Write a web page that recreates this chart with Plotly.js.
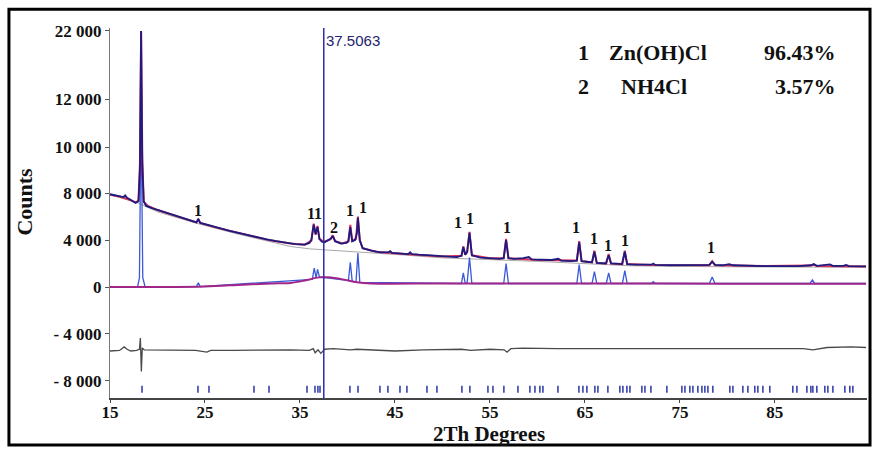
<!DOCTYPE html>
<html>
<head>
<meta charset="utf-8">
<script src="https://cdn.plot.ly/plotly-3.0.1.min.js"></script>
<style>html,body{margin:0;padding:0;background:#fff;}#chart{width:872px;height:450px;}</style>
</head>
<body>
<div id="chart"></div>
<script>
// ---- observed pattern (2Theta deg, counts in display units) ----
var obsX = [15.0,15.5,16.0,16.4,16.6,16.8,17.2,17.7,18.0,18.15,18.27,18.4,18.55,18.8,19.5,20.5,21.5,22.5,23.5,24.1,24.3,24.5,25.5,26.5,27.5,28.5,29.5,30.5,31.5,32.5,33.5,34.5,35.5,36.0,36.2,36.45,36.65,36.85,37.05,37.3,37.6,37.9,38.3,38.45,38.7,39.3,39.9,40.1,40.3,40.5,40.8,41.0,41.1,41.3,41.6,42.5,43.5,44.3,44.5,44.7,45.5,46.4,46.6,46.8,47.5,48.5,49.5,50.5,51.5,52.0,52.2,52.4,52.6,52.85,53.1,54.0,55.0,56.0,56.45,56.7,56.95,57.5,58.5,59.1,59.4,60.5,61.5,62.2,62.5,63.5,64.15,64.4,64.65,65.2,65.75,66.0,66.25,67.2,67.5,67.75,68.9,69.2,69.45,70.2,71.0,72.0,72.2,72.4,74.0,76.0,77.5,78.1,78.4,78.7,79.5,80.2,80.6,82.0,84.0,86.0,87.5,88.8,89.1,89.4,90.5,90.8,91.1,92.2,92.5,92.8,94.6];
var obsY = [7900,7800,7700,7650,7800,7600,7400,7150,7300,10000,21800,10500,7300,6900,6700,6450,6200,5900,5650,5500,5800,5450,5250,5000,4800,4600,4400,4200,4050,3900,3750,3650,3600,3750,4000,5300,4500,5100,4100,3850,3800,3950,4150,4350,3900,3700,3750,3900,5100,3900,4000,4600,5900,4000,3300,3100,2950,2950,3050,2900,2850,2800,2950,2800,2750,2700,2650,2600,2550,2650,3400,2750,3000,4600,2700,2500,2450,2400,2450,4000,2450,2400,2450,2550,2350,2300,2300,2400,2250,2200,2250,3800,2200,2150,2100,3000,2050,2000,2700,2000,1950,3000,1950,1900,1880,1900,2000,1880,1850,1850,1850,1880,2150,1880,1850,1950,1850,1800,1780,1780,1780,1850,1950,1800,1850,1920,1800,1800,1880,1780,1750];

// ---- calculated pattern ----
var calcX = [15,16,17,17.7,18.0,18.15,18.28,18.4,18.55,19,20,22,24.1,24.3,24.5,26,28,30,32,34,35.5,36.2,36.45,36.65,36.85,37.05,37.5,38.2,38.45,38.7,39.5,40.1,40.3,40.5,40.9,41.1,41.3,41.6,43,46,50,52.0,52.2,52.4,52.6,52.85,53.1,55,56.45,56.7,56.95,60,64.15,64.4,64.65,65.75,66.0,66.25,67.25,67.5,67.75,68.95,69.2,69.45,72,78.1,78.4,78.7,84,88.8,89.1,89.4,94.6];
var calcY = [7850,7700,7450,7200,7350,10500,21800,11000,7250,6900,6550,6050,5500,5750,5450,5100,4700,4300,3950,3700,3600,3950,5400,4450,5200,4100,3850,4050,4400,3900,3700,3900,5300,3900,4100,6000,3950,3300,3000,2800,2600,2650,3450,2750,2950,4700,2700,2450,2450,4100,2450,2300,2250,3900,2200,2100,3100,2050,2000,2800,2000,1950,3100,1950,1880,1860,2200,1860,1780,1820,1900,1790,1750];

// ---- background ----
var bgX = [15,18,20,24,28,30,32,34,36,38,40,42,44,46,50,60,70,80,94.6];
var bgY = [7850,7150,6400,5450,4600,4200,3800,3450,3250,3150,3050,2950,2850,2720,2480,2180,1800,1720,1680];

// ---- amorphous / hump curve (bottom) ----
var humpX = [15,20,25,29,32,34,35.5,37,38,39.5,41,42.5,50,60,70,80,94.6];
var humpY = [0,0,50,200,300,350,550,820,820,650,400,300,300,300,300,280,280];

// ---- phase 1 Zn(OH)Cl calculated peaks (bottom) ----
var phaseX = [15,17.9,18.1,18.27,18.45,18.7,24.1,24.3,24.5,36.3,36.5,36.7,36.85,37.05,40.1,40.3,40.5,40.9,41.1,41.3,52.0,52.2,52.4,52.6,52.85,53.1,56.45,56.7,56.95,64.15,64.4,64.65,65.75,66.0,66.25,67.25,67.5,67.75,68.95,69.2,69.45,72.0,72.2,72.4,78.1,78.4,78.7,88.7,88.95,89.2,94.6];
var phaseY = [0,0,800,15200,800,0,30,350,40,650,1600,800,1500,850,550,2100,500,420,2900,400,300,1200,300,350,2500,300,300,2000,300,300,1900,300,300,1300,300,300,1200,300,300,1400,300,300,450,300,300,850,300,300,600,300,300];

// ---- difference curve ----
var diffX = [15,16.0,16.5,16.8,17.2,17.8,18.1,18.2,18.3,18.4,18.6,20,22,24,25.2,25.6,28,31,34,36.0,36.4,36.6,36.9,37.2,37.6,38.5,40.3,41,43,45,48,50,52,53,55,56.5,56.8,57.2,58.5,62,65,70,75,80,86,88,89,90.5,93,94.6];
var diffY = [-5450,-5400,-5100,-5300,-5450,-5400,-5300,-4350,-7200,-5200,-5350,-5350,-5400,-5400,-5550,-5400,-5400,-5350,-5350,-5400,-5250,-5600,-5350,-5650,-5300,-5250,-5350,-5300,-5400,-5450,-5350,-5300,-5300,-5400,-5300,-5350,-5550,-5250,-5200,-5250,-5250,-5250,-5200,-5200,-5250,-5250,-5350,-5150,-5100,-5150];

// ---- reflection positions (tick row) ----
var reflX = [18.37,24.26,25.42,30.16,31.74,35.74,36.58,36.89,37.11,40.26,41.11,43.42,44.26,45.53,46.26,48.37,49.42,52.05,52.89,54.79,55.32,56.47,57.95,59.21,59.74,60.26,60.58,62.16,64.37,64.79,65.21,66.05,66.37,67.42,68.68,69.0,69.42,69.74,71.0,71.32,71.95,73.63,75.21,75.53,76.05,76.37,76.89,77.32,77.63,77.95,78.47,80.26,80.58,81.63,82.16,82.89,83.21,83.74,84.47,86.89,87.32,88.37,88.79,89.0,89.42,90.26,90.58,91.11,92.37,92.89,93.21];
var reflLevel = -8700;

// ---- peak phase labels ----
var labelX = [18.95,24.26,36.55,38.6,40.3,41.6,51.6,52.9,56.8,64.05,65.95,67.4,69.2,78.3];
var labelY = [22400,6500,6300,5100,6500,6800,5500,5800,5100,5100,4100,3500,4000,3400];
var labelText = ['1','1','11','2','1','1','1','1','1','1','1','1','1','1'];

// ---- axis ticks ----
var xTickVals = [15,25,35,45,55,65,75,85];
var yTickVals = [-8000,-4000,0,4000,8000,11900,16000,21800];
var yTickText = ['- 8 000','- 4 000','0','4 000','8 000','10 000','12 000','22 000'];
var xTitle = '2Th Degrees';
var yTitle = 'Counts';

// ---- marker line and phase table ----
var markerPos = 37.5063;
var phaseNum = ['1','2'];
var phaseName = ['Zn(OH)Cl','NH4Cl'];
var phasePct = ['96.43%','3.57%'];

var serif = 'Liberation Serif, Times New Roman, serif';

var traces = [
  {x: bgX, y: bgY, mode: 'lines', line: {color: '#a8a8a8', width: 1}, hoverinfo: 'skip'},
  {x: phaseX, y: phaseY, mode: 'lines', line: {color: '#3a5ad8', width: 1.3}},
  {x: humpX, y: humpY, mode: 'lines', line: {color: '#a0268a', width: 2, shape: 'spline'}},
  {x: calcX, y: calcY, mode: 'lines', line: {color: '#e0305a', width: 2}},
  {x: obsX, y: obsY, mode: 'lines', line: {color: '#1b1b80', width: 1.8}},
  {x: diffX, y: diffY, mode: 'lines', line: {color: '#4a4a4a', width: 1.3}},
  {x: reflX, y: reflX.map(function(){return reflLevel;}), mode: 'markers',
   marker: {symbol: 'line-ns-open', size: 5, color: '#2a36a8', line: {color: '#2a36a8', width: 1.5}}}
];

var annotations = [];
for (var i = 0; i < labelX.length; i++) {
  annotations.push({x: labelX[i], y: labelY[i], text: labelText[i], showarrow: false,
    xanchor: 'center', yanchor: 'middle', font: {family: serif, size: 16, color: '#111', weight: 'bold'}});
}
annotations.push({x: markerPos, y: 21000, text: String(markerPos), showarrow: false, xanchor: 'left',
  yanchor: 'middle', font: {family: 'Liberation Sans, Arial, sans-serif', size: 15, color: '#23236e'}});
var rowY = [0.933, 0.841];
for (var j = 0; j < phaseNum.length; j++) {
  annotations.push({xref: 'paper', yref: 'paper', x: 0.625, y: rowY[j], text: phaseNum[j], showarrow: false,
    xanchor: 'center', yanchor: 'middle', font: {family: serif, size: 22, color: '#111', weight: 'bold'}});
  annotations.push({xref: 'paper', yref: 'paper', x: j === 0 ? 0.657 : 0.673, y: rowY[j], text: phaseName[j], showarrow: false,
    xanchor: 'left', yanchor: 'middle', font: {family: serif, size: 22, color: '#111', weight: 'bold'}});
  annotations.push({xref: 'paper', yref: 'paper', x: 0.962, y: rowY[j], text: phasePct[j], showarrow: false,
    xanchor: 'right', yanchor: 'middle', font: {family: serif, size: 22, color: '#111', weight: 'bold'}});
}
// axis titles placed precisely
annotations.push({xref: 'paper', yref: 'paper', x: 0.5, y: -0.097, text: xTitle, showarrow: false,
  xanchor: 'center', yanchor: 'middle', font: {family: serif, size: 21, color: '#111', weight: 'bold'}});
annotations.push({xref: 'paper', yref: 'paper', x: -0.113, y: 0.532, text: yTitle, showarrow: false, textangle: -90,
  xanchor: 'center', yanchor: 'middle', font: {family: serif, size: 22, color: '#111', weight: 'bold'}});

var layout = {
  width: 872, height: 450,
  margin: {l: 110, r: 5, t: 28, b: 52},
  paper_bgcolor: '#ffffff', plot_bgcolor: '#ffffff',
  showlegend: false,
  font: {family: serif, color: '#111'},
  xaxis: {
    range: [15, 94.7], tickvals: xTickVals, ticks: 'outside', ticklen: 3, tickcolor: '#444',
    ticklabelstandoff: -5,
    showline: true, linecolor: '#444', linewidth: 1.5, showgrid: false, zeroline: false,
    tickfont: {family: serif, size: 17, color: '#111', weight: 'bold'}
  },
  yaxis: {
    range: [-9450, 22050], tickvals: yTickVals, ticktext: yTickText, ticks: 'outside', ticklen: 4, tickcolor: '#555',
    showline: true, linecolor: '#777', linewidth: 1, showgrid: false, zeroline: false,
    tickfont: {family: serif, size: 17, color: '#111', weight: 'bold'}
  },
  shapes: [
    {type: 'line', xref: 'x', yref: 'paper', x0: markerPos, x1: markerPos, y0: 0, y1: 1,
     line: {color: '#2b2bb0', width: 1.5}},
    {type: 'rect', xref: 'paper', yref: 'paper', x0: -0.1335, x1: 1.004, y0: -0.127, y1: 1.051,
     line: {color: '#000', width: 3}, fillcolor: 'rgba(0,0,0,0)'}
  ],
  annotations: annotations
};

Plotly.newPlot('chart', traces, layout, {staticPlot: true, displayModeBar: false});
</script>
</body>
</html>
